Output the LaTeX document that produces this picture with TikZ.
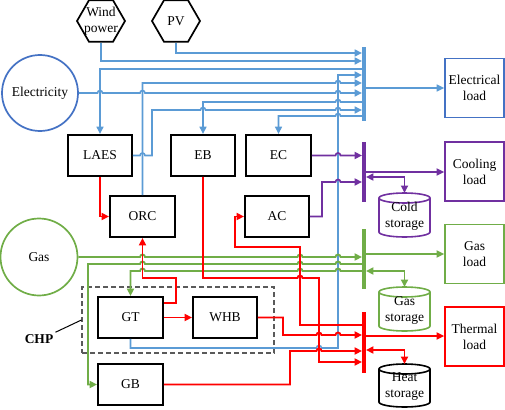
\documentclass[tikz,border=0pt]{standalone}
\usepackage{fontspec}
\setmainfont{Liberation Serif}
\usetikzlibrary{arrows.meta,shapes.geometric}
\definecolor{lblue}{RGB}{91,155,213}
\definecolor{dblue}{RGB}{68,114,196}
\definecolor{grn}{RGB}{112,173,71}
\definecolor{prp}{RGB}{112,48,160}
\definecolor{rdc}{RGB}{255,0,0}
\definecolor{chpgray}{RGB}{90,90,90}
\newcommand\storagecyl[6]{%
 \draw[draw=#5,line width=1.6pt] (#2-25.5,#3+5) -- (#2-25.5,#4-5) arc[start angle=180,end angle=360,x radius=25.5pt,y radius=5pt] -- (#2+25.5,#3+5);
 \draw[draw=#5,line width=1.6pt] (#2,#3+5) ellipse[x radius=25.5pt,y radius=5pt];
 \coordinate (#1) at (#2,#3);
 \node[txt] (#1t) at (#2,{(#3+#4)/2+1}) {#6};}
\begin{document}
\begin{tikzpicture}[x=1pt,y=-1pt,
 every node/.style={font=\fontsize{13.5pt}{16pt}\selectfont},
 txt/.style={align=center,inner sep=0pt},
 hexa/.style={regular polygon,regular polygon sides=6,draw,line width=1.7pt,minimum size=48pt,inner sep=0pt},
 box/.style={draw,line width=1.9pt,minimum width=64pt,minimum height=41pt,inner sep=0pt},
 load/.style={draw,line width=1.7pt,minimum width=59pt,minimum height=59pt,inner sep=0pt,align=center},
 bus/.style={rectangle,inner sep=0pt,minimum width=3.5pt,draw=none},
 arr/.style={-{Triangle[length=7.5pt,width=7pt]}},
 rarr/.style={{Triangle[length=7.5pt,width=7pt]}-},
 barr/.style={{Triangle[length=7.5pt,width=7pt]}-{Triangle[length=7.5pt,width=7pt]}},
 bl/.style={draw=lblue,line width=1.6pt},
 pu/.style={draw=prp,line width=1.7pt},
 gr/.style={draw=grn,line width=1.8pt},
 rdl/.style={draw=rdc,line width=1.8pt},
 hop/.style 2 args={insert path={-- (#1-2.5,#2) arc[start angle=180,end angle=0,radius=2.5pt]}}
]
\useasboundingbox (0,0) rectangle (505,409);

% sources
\node[hexa] (wind) at (101,21) {};
\node[txt] (windt) at (wind.center) {Wind\\power};
\node[hexa] (pv) at (176,21) {};
\node[txt] (pvt) at (pv.center) {PV};
\node[circle,draw=dblue,line width=1.7pt,minimum size=76pt,inner sep=0pt] (elec) at (40,93) {Electricity};
\node[circle,draw=grn,line width=1.7pt,minimum size=77pt,inner sep=0pt] (gas) at (39,257) {Gas};

% devices
\node[box] (laes) at (100,155.5) {LAES};
\node[box] (eb) at (203,155.5) {EB};
\node[box,minimum width=65pt] (ec) at (278.5,155.5) {EC};
\node[box,minimum width=65pt] (orc) at (142.5,216.5) {ORC};
\node[box] (ac) at (277,216.5) {AC};
\node[box,minimum width=65pt] (gt) at (130.5,317.5) {GT};
\node[box] (whb) at (225,317.5) {WHB};
\node[box,minimum width=65pt] (gb) at (130.5,384.5) {GB};

% CHP
\node[draw=chpgray,line width=1.1pt,dash pattern=on 5pt off 3pt,minimum width=192pt,minimum height=66pt,inner sep=0pt] (chp) at (178,320) {};
\node[font=\fontsize{13.5pt}{16pt}\selectfont\bfseries,inner sep=2pt] (chpl) at (39,339) {CHP};
\draw[line width=1pt] (chpl.north east) -- (chp.west);

% loads
\node[load,draw=dblue] (eload) at (474.5,88) {Electrical\\load};
\node[load,draw=prp] (cload) at (474.5,171.5) {Cooling\\load};
\node[load,draw=grn] (gload) at (474.5,254) {Gas\\load};
\node[load,draw=rdc] (tload) at (474.5,336.5) {Thermal\\load};

% buses
\node[bus,fill=lblue,minimum height=74pt] (ebus) at (364,84) {};
\node[bus,fill=prp,minimum height=60pt] (cbus) at (364,172) {};
\node[bus,fill=grn,minimum height=60pt] (gbus) at (364,259) {};
\node[bus,fill=rdc,minimum height=61pt] (hbus) at (364,342.5) {};

% storages
\storagecyl{coldtop}{404.5}{193}{237}{prp}{Cold\\storage}
\storagecyl{gastop}{404.5}{287}{331}{grn}{Gas\\storage}
\storagecyl{heattop}{404.5}{364}{407}{black}{Heat\\storage}

% electricity
\draw[bl,arr] (pv.south) |- (ebus.west |- 0,53);
\draw[bl,arr] (wind.south) |- (ebus.west |- 0,61);
\draw[bl,rarr] (laes.north) |- (ebus.west |- 0,69);
\draw[bl,arr] (gt.south) -- (gt.south |- 0,348) [hop={319}{348}] -- (338,348) -- (338,75) -- (ebus.west |- 0,75);
\draw[bl,arr] (orc.north) -- (orc.north |- 0,83) [hop={338}{83}] -- (ebus.west |- 0,83);
\draw[bl,arr] (elec.east) [hop={100}{93}] [hop={142.5}{93}] [hop={338}{93}] -- (ebus.west |- 0,93);
\draw[bl,rarr] (eb.north) -- (eb.north |- 0,102) [hop={338}{102}] -- (ebus.west |- 0,102);
\draw[bl,arr] (laes.east) [hop={142.5}{155.5}] -- (152,155.5) -- (152,110) [hop={203}{110}] [hop={338}{110}] -- (ebus.west |- 0,110);
\draw[bl,rarr] (ec.north) -- (ec.north |- 0,116) [hop={338}{116}] -- (ebus.west |- 0,116);
\draw[bl,arr] (ebus.east |- eload.west) -- (eload.west);

% cooling
\draw[pu,arr] (ec.east) [hop={338}{155.5}] -- (cbus.west |- ec.east);
\draw[pu,arr] (ac.east) -- (322,216.5) -- (322,182) [hop={338}{182}] -- (cbus.west |- 0,182);
\draw[pu,arr] (cbus.east |- 0,172) -- (cload.west |- 0,172);
\draw[pu,barr] (cbus.east |- 0,177) -| (coldtop);

% gas
\draw[gr,arr] (gas.east) [hop={142.5}{257}] [hop={300}{257}] [hop={338}{257}] -- (gbus.west |- 0,257);
\draw[gr,rarr] (gb.west) -- (88,384.5) -- (88,264) [hop={142.5}{264}] [hop={300}{264}] [hop={338}{264}] -- (gbus.west |- 0,264);
\draw[gr,rarr] (gt.north) -- (gt.north |- 0,271) [hop={142.5}{271}] [hop={300}{271}] [hop={338}{271}] -- (gbus.west |- 0,271);
\draw[gr,arr] (gbus.east |- 0,254) -- (gload.west |- 0,254);
\draw[gr,barr] (gbus.east |- 0,271) -| (gastop);

% heat
\draw[rdl,arr] (laes.south) |- (orc.west);
\draw[rdl,arr] (gt.east |- 0,303) -- (176,303) -- (176,278) -- (142.5,278) -- (orc.south);
\draw[rdl,arr] (gt.east) -- (whb.west);
\draw[rdl,arr] (eb.south) -- (203,278) [hop={300}{278}] -- (319,278) -- (319,362) -- (hbus.west |- 0,362);
\draw[rdl,arr] (whb.east) -- (283,317.5) -- (283,335) [hop={319}{335}] [hop={338}{335}] -- (hbus.west |- 0,335);
\draw[rdl,arr] (gb.east) -- (290,384.5) -- (290,351) [hop={319}{351}] -- (hbus.west |- 0,351);
\draw[rdl,rarr] (ac.west) -- (235,216.5) -- (235,247) -- (300,247) -- (300,325) -- (hbus.west |- 0,325);
\draw[rdl,arr] (hbus.east |- 0,336) -- (tload.west |- 0,336);
\draw[rdl,barr] (hbus.east |- 0,350) -| (heattop);
\end{tikzpicture}
\end{document}
